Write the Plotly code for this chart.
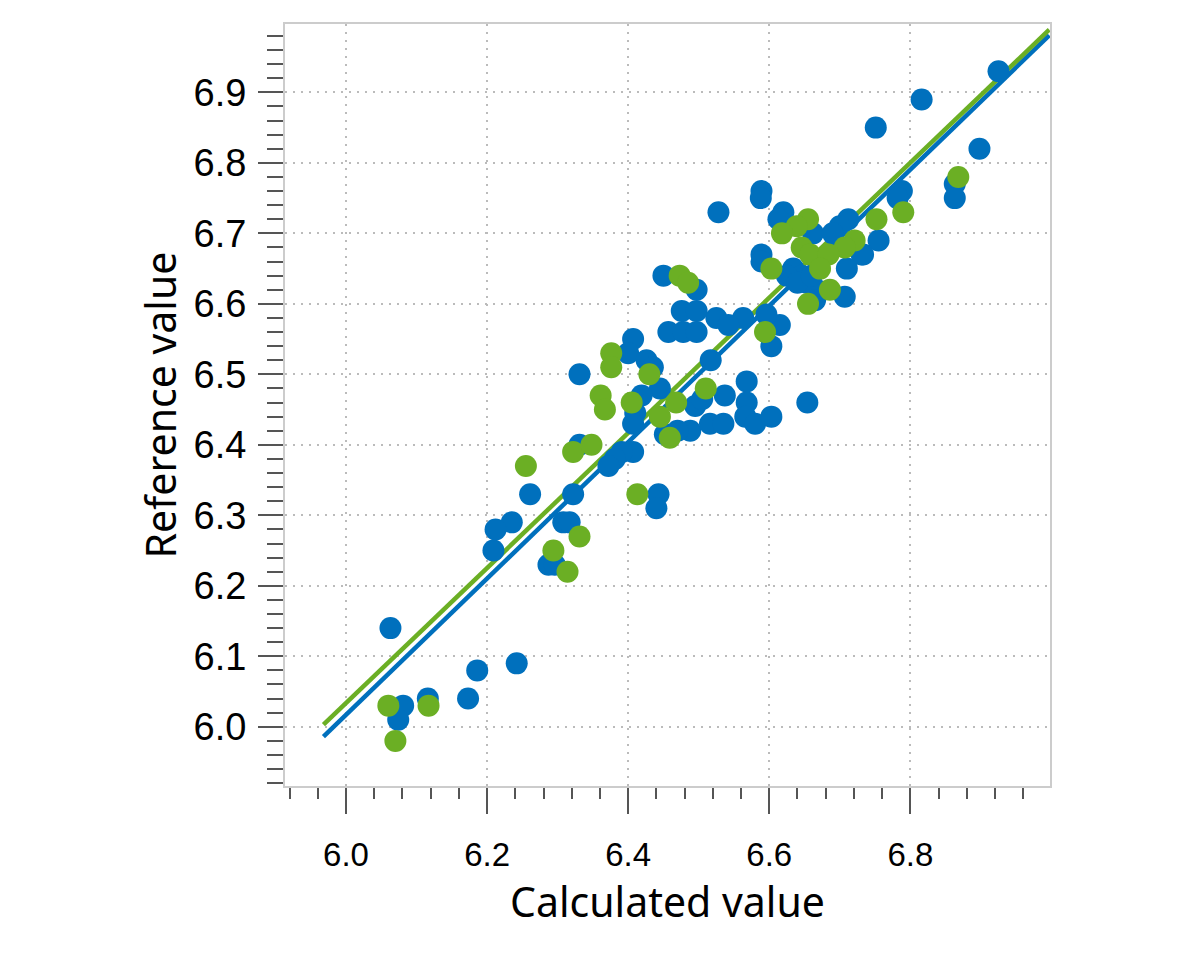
import plotly.graph_objects as go

# Blue series (calculated, reference)
blue_x = [6.925, 6.816, 6.751, 6.898, 6.788, 6.782, 6.863, 6.863, 6.755, 6.733,
          6.589, 6.588, 6.620, 6.613, 6.662, 6.712, 6.700, 6.690, 6.731, 6.710,
          6.589, 6.589, 6.634, 6.646, 6.653, 6.667, 6.665, 6.707, 6.625, 6.640,
          6.660, 6.563, 6.615, 6.603, 6.596, 6.525, 6.542,
          6.528, 6.450, 6.497, 6.476, 6.497, 6.457, 6.478, 6.497, 6.407, 6.400,
          6.426, 6.435, 6.331, 6.517, 6.537, 6.445, 6.419, 6.495, 6.505, 6.410,
          6.407, 6.452, 6.488, 6.470, 6.516, 6.535, 6.568, 6.568, 6.566, 6.580,
          6.603, 6.654, 6.331, 6.407, 6.391, 6.381, 6.372, 6.322, 6.443, 6.440,
          6.261, 6.235, 6.212, 6.209, 6.308, 6.317, 6.287, 6.296,
          6.063, 6.186, 6.242, 6.173, 6.116, 6.081, 6.074]
blue_y = [6.93, 6.89, 6.85, 6.82, 6.76, 6.75, 6.77, 6.75, 6.69, 6.67,
          6.76, 6.75, 6.73, 6.72, 6.70, 6.72, 6.71, 6.70, 6.67, 6.65,
          6.67, 6.66, 6.65, 6.64, 6.63, 6.62, 6.605, 6.61, 6.64, 6.63,
          6.64, 6.58, 6.57, 6.54, 6.585, 6.58, 6.57,
          6.73, 6.64, 6.62, 6.59, 6.59, 6.56, 6.56, 6.56, 6.55, 6.53,
          6.52, 6.51, 6.50, 6.52, 6.47, 6.48, 6.47, 6.455, 6.465, 6.445,
          6.43, 6.415, 6.42, 6.42, 6.43, 6.43, 6.49, 6.46, 6.44, 6.43,
          6.44, 6.46, 6.40, 6.39, 6.39, 6.38, 6.37, 6.33, 6.33, 6.31,
          6.33, 6.29, 6.28, 6.25, 6.29, 6.29, 6.23, 6.23,
          6.14, 6.08, 6.09, 6.04, 6.04, 6.03, 6.01]

# Green series (calculated, reference)
green_x = [6.868, 6.790, 6.752, 6.721, 6.707, 6.655, 6.639, 6.618, 6.646, 6.658,
           6.684, 6.672, 6.603, 6.686, 6.655, 6.594, 6.473, 6.485, 6.376, 6.376,
           6.430, 6.510, 6.361, 6.367, 6.405, 6.468, 6.445, 6.459, 6.322, 6.348,
           6.413, 6.255, 6.331, 6.294, 6.314, 6.060, 6.117, 6.070]
green_y = [6.78, 6.73, 6.72, 6.69, 6.68, 6.72, 6.71, 6.70, 6.68, 6.67,
           6.67, 6.65, 6.65, 6.62, 6.60, 6.56, 6.64, 6.63, 6.53, 6.51,
           6.50, 6.48, 6.47, 6.45, 6.46, 6.46, 6.44, 6.41, 6.39, 6.40,
           6.33, 6.37, 6.27, 6.25, 6.22, 6.03, 6.03, 5.98]

# Regression lines (end points)
fit_x = [5.968, 6.997]
blue_fit_y = [5.986, 6.981]
green_fit_y = [6.003, 6.989]

x_tick_vals = [6.0, 6.2, 6.4, 6.6, 6.8]
x_tick_text = ["6.0", "6.2", "6.4", "6.6", "6.8"]
y_tick_vals = [6.0, 6.1, 6.2, 6.3, 6.4, 6.5, 6.6, 6.7, 6.8, 6.9]
y_tick_text = ["6.0", "6.1", "6.2", "6.3", "6.4", "6.5", "6.6", "6.7", "6.8", "6.9"]

BLUE = "#0070BD"
GREEN = "#6BAF24"

fig = go.Figure()
fig.add_trace(go.Scatter(x=fit_x, y=blue_fit_y, mode="lines",
                         line=dict(color=BLUE, width=4.5), showlegend=False))
fig.add_trace(go.Scatter(x=fit_x, y=green_fit_y, mode="lines",
                         line=dict(color=GREEN, width=4.5), showlegend=False))
fig.add_trace(go.Scatter(x=blue_x, y=blue_y, mode="markers",
                         marker=dict(color=BLUE, size=22, line=dict(width=0)),
                         showlegend=False))
fig.add_trace(go.Scatter(x=green_x, y=green_y, mode="markers",
                         marker=dict(color=GREEN, size=22, line=dict(width=0)),
                         showlegend=False))

fig.update_layout(
    width=1200, height=960,
    margin=dict(l=285, r=150, t=24, b=174),
    paper_bgcolor="white", plot_bgcolor="white",
    showlegend=False,
)
fig.update_xaxes(
    range=[5.9135, 6.998],
    tickmode="array", tickvals=x_tick_vals, ticktext=x_tick_text,
    ticks="outside", ticklen=26, tickwidth=2, tickcolor="#555555",
    tickfont=dict(family="Arial, Liberation Sans", size=33, color="black"),
    ticklabelstandoff=12,
    minor=dict(dtick=0.04, tick0=6.0, ticks="outside", ticklen=11, tickwidth=2,
               tickcolor="#555555", showgrid=False),
    showgrid=True, gridcolor="#BBBBBB", gridwidth=2, griddash="2px,6px",
    showline=True, linecolor="#CCCCCC", linewidth=2, mirror=True,
    zeroline=False,
    title=dict(text="Calculated value",
               font=dict(family="Noto Sans", size=41, color="black"), standoff=14),
)
fig.update_yaxes(
    range=[5.916, 6.997],
    tickmode="array", tickvals=y_tick_vals, ticktext=y_tick_text,
    ticks="outside", ticklen=25, tickwidth=2, tickcolor="#555555",
    tickfont=dict(family="Arial, Liberation Sans", size=38, color="black"),
    ticklabelstandoff=4,
    minor=dict(dtick=0.02, tick0=6.0, ticks="outside", ticklen=16, tickwidth=2,
               tickcolor="#555555", showgrid=False),
    showgrid=True, gridcolor="#BBBBBB", gridwidth=2, griddash="2px,6px",
    showline=True, linecolor="#CCCCCC", linewidth=2, mirror=True,
    zeroline=False,
    title=dict(text="Reference value",
               font=dict(family="Noto Sans", size=41, color="black"), standoff=4),
)
fig.write_html("out.html")
